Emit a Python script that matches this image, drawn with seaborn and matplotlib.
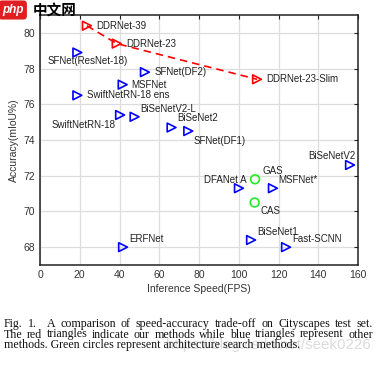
import matplotlib
matplotlib.use("Agg")
import matplotlib.pyplot as plt
import seaborn as sns
import pandas as pd

# our methods (red)
ours_names = ["DDRNet-39", "DDRNet-23", "DDRNet-23-Slim"]
ours_fps = [23.6, 38.6, 109.2]
ours_miou = [80.4, 79.4, 77.4]

# other methods (blue)
other_names = ["SFNet(ResNet-18)", "SFNet(DF2)", "MSFNet", "SwiftNetRN-18 ens",
               "SwiftNetRN-18", "BiSeNetV2-L", "BiSeNet2", "SFNet(DF1)",
               "BiSeNetV2", "DFANet A", "MSFNet*", "BiSeNet1", "Fast-SCNN", "ERFNet"]
other_fps = [18.8, 52.8, 41.6, 18.8, 40.3, 47.6, 66.2, 74.6,
             156.0, 100.1, 117.2, 106.2, 123.8, 41.8]
other_miou = [78.9, 77.8, 77.1, 76.5, 75.4, 75.3, 74.7, 74.5,
              72.6, 71.3, 71.3, 68.4, 68.0, 68.0]

# architecture search methods (green)
nas_names = ["GAS", "CAS"]
nas_fps = [108.2, 108.0]
nas_miou = [71.8, 70.5]

x_ticks = [0, 20, 40, 60, 80, 100, 120, 140, 160]
y_ticks = [68, 70, 72, 74, 76, 78, 80]

caption = [
    "Fig. 1.  A comparison of speed-accuracy trade-off on Cityscapes test set.",
    "The red triangles indicate our methods while blue triangles represent other",
    "methods. Green circles represent architecture search methods.",
]

# label offsets in pixels (dx, dy, ha)
label_pos = {
    "DDRNet-39": (9, 0, "left"), "DDRNet-23": (10, 0, "left"),
    "DDRNet-23-Slim": (9, 0, "left"),
    "SFNet(ResNet-18)": (-30, -9, "left"), "SFNet(DF2)": (10, 0, "left"),
    "MSFNet": (9, 0, "left"), "SwiftNetRN-18 ens": (10, 0, "left"),
    "SwiftNetRN-18": (-5, -10, "right"), "BiSeNetV2-L": (6, 8, "left"),
    "BiSeNet2": (6, 9, "left"), "SFNet(DF1)": (5, -10, "left"),
    "BiSeNetV2": (5, 9, "right"), "DFANet A": (8, 8, "right"),
    "MSFNet*": (5, 8, "left"), "BiSeNet1": (6, 8, "left"),
    "Fast-SCNN": (6, 8, "left"), "ERFNet": (6, 8, "left"),
    "GAS": (7, 8, "left"), "CAS": (6, -9, "left"),
}

df = pd.concat([
    pd.DataFrame({"name": ours_names, "fps": ours_fps, "miou": ours_miou, "group": "ours"}),
    pd.DataFrame({"name": other_names, "fps": other_fps, "miou": other_miou, "group": "other"}),
    pd.DataFrame({"name": nas_names, "fps": nas_fps, "miou": nas_miou, "group": "nas"}),
], ignore_index=True)

sns.set_style("whitegrid")
plt.rcParams['font.family'] = ['Liberation Sans', 'DejaVu Sans']

W, H = 386, 365
fig = plt.figure(figsize=(W / 100, H / 100), dpi=100)
ax = fig.add_axes([40 / W, 100 / H, 318 / W, 250 / H])

sns.lineplot(x=ours_fps, y=ours_miou, color="red", linestyle=(0, (4.5, 3)),
             linewidth=1.2, ax=ax, zorder=2)

styles = {"ours": ("red", ">"), "other": ("blue", ">"), "nas": ("#22ee22", "o")}
for g, (col, mk) in styles.items():
    sub = df[df["group"] == g]
    sns.scatterplot(x="fps", y="miou", data=sub, marker=mk, s=40,
                    facecolors="none", edgecolor=col, linewidth=1.2,
                    ax=ax, zorder=3, legend=False)

for _, row in df.iterrows():
    dx, dy, ha = label_pos[row["name"]]
    ax.annotate(row["name"], (row["fps"], row["miou"]), xytext=(dx, dy),
                textcoords="offset pixels", ha=ha, va="center", fontsize=7,
                color="#222222")

ax.set_xlim(0, 160)
ax.set_ylim(67, 81)
ax.set_xticks(x_ticks)
ax.set_yticks(y_ticks)
ax.grid(True, color="#dddddd", linewidth=0.9)
for sp in ax.spines.values():
    sp.set_color("#222222")
    sp.set_linewidth(1.1)
ax.tick_params(direction="in", length=3, width=0.8, labelsize=7.5,
               top=True, right=True, colors="#222222", labelcolor="#333333")
ax.set_xlabel("Inference Speed(FPS)", fontsize=7.5, color="#333333", labelpad=3)
ax.set_ylabel("Accuracy(mIoU%)", fontsize=7.5, color="#333333", labelpad=3)

# faint watermark (behind caption)
fig.text(166 / W, 1 - 345 / H, "https://blog.csdn.net/seek0226", fontsize=10.9,
         color="#dcdcdc", ha="left", va="center", zorder=0)
fig.text(2 / W, 1 - 10 / H, "php", fontsize=8.5, color="white", weight="bold",
         style="italic", ha="left", va="center",
         bbox=dict(boxstyle="round,pad=0.3", fc="#e02020", ec="none"))
fig.text(33 / W, 1 - 10 / H, "中文网", fontsize=10.5, color="black", weight="bold",
         family=["Noto Sans CJK SC", "DejaVu Sans"], ha="left", va="center")

# caption below the chart, first two lines justified
renderer = fig.canvas.get_renderer()
cap_font = dict(fontsize=8.6, family=["Liberation Serif", "DejaVu Serif"],
                color="#111111", va="center", ha="left")
x0, x1 = 4, 373
line_y = [324, 334.5, 345]
for i, line in enumerate(caption):
    y = 1 - line_y[i] / H
    if i == len(caption) - 1:
        fig.text(x0 / W, y, line, **cap_font)
        continue
    words = line.split(" ")
    texts = [fig.text(0, y, w, **cap_font) for w in words]
    widths = [t.get_window_extent(renderer).width for t in texts]
    gap = (x1 - x0 - sum(widths)) / (len(words) - 1)
    x = x0
    for t, w in zip(texts, widths):
        t.set_x(x / W)
        x += w + gap

fig.savefig("out.png", dpi=100, facecolor="white")
